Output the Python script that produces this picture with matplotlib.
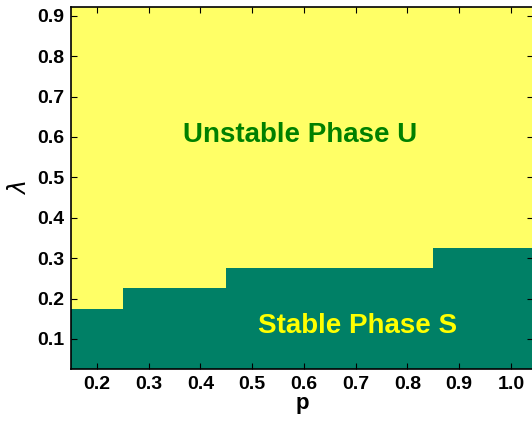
import matplotlib
matplotlib.use("Agg")
import matplotlib.pyplot as plt

# Phase boundary data
p_edges = [0.15, 0.25, 0.45, 0.85, 1.05]
lambda_c = [0.175, 0.225, 0.275, 0.325]
xticks = [0.2, 0.3, 0.4, 0.5, 0.6, 0.7, 0.8, 0.9, 1.0]
yticks = [0.1, 0.2, 0.3, 0.4, 0.5, 0.6, 0.7, 0.8, 0.9]

plt.rcParams['font.family'] = ['Liberation Sans', 'DejaVu Sans']

fig = plt.figure(figsize=(5.32, 4.21), dpi=100)
W, H = 532, 421
ax = fig.add_axes([71 / W, 1 - 369 / H, (533 - 71) / W, (369 - 7) / H])

ylo, yhi = 0.0257, 0.9215
ax.set_xlim(0.15, 1.0426)
ax.set_ylim(ylo, yhi)
ax.set_facecolor('#FFFF66')
ax.stairs(lambda_c, p_edges, fill=True, baseline=ylo, color='#008066', linewidth=0)

ax.text(0.593, 0.605, 'Unstable Phase U', color='#008000', fontsize=20,
        fontweight='bold', ha='center', va='center')
ax.text(0.703, 0.132, 'Stable Phase S', color='#FFFF00', fontsize=20,
        fontweight='bold', ha='center', va='center')

ax.set_xticks(xticks)
ax.set_yticks(yticks)
ax.set_xticklabels([f'{v:.1f}' for v in xticks], fontweight='bold', fontsize=14)
ax.set_yticklabels([f'{v:.1f}' for v in yticks], fontweight='bold', fontsize=14)
ax.tick_params(direction='in', top=True, right=True, length=4, width=0.8, pad=5)
ax.set_xlabel('p', fontweight='bold', fontsize=16, labelpad=0)
ax.set_ylabel(r'$\lambda$', fontsize=17, labelpad=4)
for s in ax.spines.values():
    s.set_linewidth(1.2)

fig.savefig('out.png', dpi=100)
